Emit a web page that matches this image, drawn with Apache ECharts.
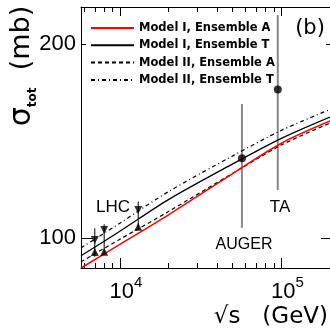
<!DOCTYPE html>
<html>
<head>
<meta charset="utf-8">
<script src="https://cdn.jsdelivr.net/npm/echarts@6/dist/echarts.min.js"></script>
<style>
html,body{margin:0;padding:0;background:#fff;}
#chart{width:330px;height:331px;}
</style>
</head>
<body>
<div id="chart"></div>
<script>
// ---- data ----
const energies = [5750, 10000, 20000, 50000, 100000, 200000];   // sqrt(s) in GeV
const modelIA  = [89.8, 97.7, 108.6, 125.9, 140.3, 151.9];
const modelIT  = [93.8, 102.4, 114.7, 130.3, 142.8, 154.1];
const modelIIA = [91.8, 99.5, 109.9, 126.0, 139.4, 150.8];
const modelIIT = [96.5, 105.4, 118.0, 134.1, 146.9, 158.3];

const seriesNames = ['Model I, Ensemble A', 'Model I, Ensemble T', 'Model II, Ensemble A', 'Model II, Ensemble T'];

// LHC measurements
const lhcEnergy = [7000, 8000, 13000];
const lhcDown   = [99.3, 102.9, 110.5];   // down triangles
const lhcUp     = [95.1, 95.2, 104.1];    // up triangles
const lhcLo     = [93.5, 94.1, 102.9];
const lhcHi     = [103.5, 105.0, 113.9];

// cosmic-ray measurements (AUGER, TA)
const crEnergy = [57000, 95000];
const crSigma  = [133, 170];
const crLo     = [103.7, 118.7];
const crHi     = [161.5, 222];

// axis ticks / labels
const xMajor = [10000, 100000];
const xMinor = [6000, 7000, 8000, 9000, 20000, 30000, 40000, 50000, 60000, 70000, 80000, 90000, 200000];
const yMajor = [100];
const yMinor = [200];
const yLabels = [100, 200];

const X_MIN = 5750, X_MAX = 200000, Y_MIN = 89.8, Y_MAX = 228.4;

const pairs = (xs, ys) => xs.map((x, i) => [x, ys[i]]);

const chart = echarts.init(document.getElementById('chart'), null, {renderer: 'canvas'});

const xBase = {type: 'log', logBase: 10, min: X_MIN, max: X_MAX, splitLine: {show: false}, minorTick: {show: false}};
const yBase = {type: 'log', logBase: 10, min: Y_MIN, max: Y_MAX, splitLine: {show: false}, minorTick: {show: false}};
const tickStyle = {color: '#000', width: 1};

function errRender(color, width) {
  return function (params, api) {
    const p1 = api.coord([api.value(0), api.value(1)]);
    const p2 = api.coord([api.value(0), api.value(2)]);
    return {type: 'line', shape: {x1: p1[0], y1: p1[1], x2: p2[0], y2: p2[1]},
            style: {stroke: color, lineWidth: width}};
  };
}

const lineStyles = [
  {color: '#ff0000', width: 1.5, type: 'solid'},
  {color: '#000000', width: 1.3, type: 'solid'},
  {color: '#000000', width: 1.2, type: [4, 3]},
  {color: '#000000', width: 1.2, type: [4, 3, 1, 3]}
];
const modelData = [modelIA, modelIT, modelIIA, modelIIT];

const option = {
  animation: false,
  backgroundColor: '#fff',
  grid: {left: 81, top: 7, right: -1, bottom: 63, containLabel: false},
  legend: {
    data: seriesNames,
    orient: 'vertical',
    left: 90, top: 22,
    padding: 0,
    itemWidth: 43, itemHeight: 12, itemGap: 5.3,
    selectedMode: false,
    itemStyle: {color: 'rgba(0,0,0,0)', borderWidth: 0, opacity: 0},
    textStyle: {fontFamily: 'DejaVu Sans', fontWeight: 'bold', fontSize: 11.5, color: '#000'}
  },
  xAxis: [
    Object.assign({}, xBase, {position: 'bottom',
      axisLine: {show: true, lineStyle: {color: '#000', width: 1}},
      axisTick: {show: true, inside: true, length: 10, customValues: xMajor, lineStyle: tickStyle},
      axisLabel: {show: true, customValues: xMajor, margin: 7, padding: [0, 0, 0, 12],
        formatter: v => '{b|10}{s|' + Math.round(Math.log10(v)) + '}',
        rich: {
          b: {fontFamily: 'Liberation Sans', fontSize: 22, color: '#000', lineHeight: 28, verticalAlign: 'bottom'},
          s: {fontFamily: 'Liberation Sans', fontSize: 15, color: '#000', lineHeight: 28, verticalAlign: 'top'}
        }}}),
    Object.assign({}, xBase, {position: 'bottom',
      axisLine: {show: false},
      axisTick: {show: true, inside: true, length: 5, customValues: xMinor, lineStyle: tickStyle},
      axisLabel: {show: false}}),
    Object.assign({}, xBase, {position: 'top',
      axisLine: {show: true, lineStyle: {color: '#000', width: 1}},
      axisTick: {show: true, inside: true, length: 9, customValues: xMajor, lineStyle: tickStyle},
      axisLabel: {show: false}}),
    Object.assign({}, xBase, {position: 'top',
      axisLine: {show: false},
      axisTick: {show: true, inside: true, length: 5, customValues: xMinor, lineStyle: tickStyle},
      axisLabel: {show: false}})
  ],
  yAxis: [
    Object.assign({}, yBase, {position: 'left',
      axisLine: {show: true, lineStyle: {color: '#000', width: 1}},
      axisTick: {show: true, inside: true, length: 12, customValues: yMajor, lineStyle: tickStyle},
      axisLabel: {show: true, customValues: yLabels, margin: 5,
        fontFamily: 'Liberation Sans', fontSize: 22, color: '#000'}}),
    Object.assign({}, yBase, {position: 'left',
      axisLine: {show: false},
      axisTick: {show: true, inside: true, length: 5, customValues: yMinor, lineStyle: tickStyle},
      axisLabel: {show: false}}),
    Object.assign({}, yBase, {position: 'right',
      axisLine: {show: false},
      axisTick: {show: true, inside: true, length: 9, customValues: yMajor, lineStyle: tickStyle},
      axisLabel: {show: false}}),
    Object.assign({}, yBase, {position: 'right',
      axisLine: {show: false},
      axisTick: {show: true, inside: true, length: 4, customValues: yMinor, lineStyle: tickStyle},
      axisLabel: {show: false}})
  ],
  series: [
    ...seriesNames.map((name, i) => ({
      name: name, type: 'line', xAxisIndex: 0, yAxisIndex: 0,
      data: pairs(energies, modelData[i]),
      smooth: 0.3, symbol: 'none', showSymbol: false,
      lineStyle: lineStyles[i], itemStyle: {color: lineStyles[i].color},
      z: i === 0 ? 4 : 3
    })),
    {
      name: 'cr-err', type: 'custom', xAxisIndex: 0, yAxisIndex: 0,
      data: crEnergy.map((x, i) => [x, crLo[i], crHi[i]]),
      renderItem: errRender('#888888', 2), encode: {x: 0, y: [1, 2]}, silent: true, z: 2
    },
    {
      name: 'cr', type: 'scatter', xAxisIndex: 0, yAxisIndex: 0,
      data: pairs(crEnergy, crSigma), symbol: 'circle', symbolSize: 8,
      itemStyle: {color: '#000'}, silent: true, z: 5
    },
    {
      name: 'lhc-err', type: 'custom', xAxisIndex: 0, yAxisIndex: 0,
      data: lhcEnergy.map((x, i) => [x, lhcLo[i], lhcHi[i]]),
      renderItem: errRender('#000000', 1), encode: {x: 0, y: [1, 2]}, silent: true, z: 5
    },
    {
      name: 'lhc-down', type: 'scatter', xAxisIndex: 0, yAxisIndex: 0,
      data: pairs(lhcEnergy, lhcDown), symbol: 'triangle', symbolRotate: 180, symbolSize: 8,
      itemStyle: {color: '#000'}, silent: true, z: 6
    },
    {
      name: 'lhc-up', type: 'scatter', xAxisIndex: 0, yAxisIndex: 0,
      data: pairs(lhcEnergy, lhcUp), symbol: 'triangle', symbolSize: 8,
      itemStyle: {color: '#000'}, silent: true, z: 6
    }
  ],
  graphic: [
    {type: 'text', x: 22, y: 66, rotation: Math.PI / 2, silent: true,
     style: {text: '{a|σ}{b|tot}{c|  (mb)}', align: 'center', verticalAlign: 'middle',
       rich: {
         a: {fontFamily: 'DejaVu Sans', fontSize: 30, color: '#000', lineHeight: 34, verticalAlign: 'middle'},
         b: {fontFamily: 'DejaVu Sans', fontSize: 12, fontWeight: 'bold', color: '#000', lineHeight: 34, verticalAlign: 'bottom'},
         c: {fontFamily: 'DejaVu Sans', fontSize: 27, color: '#000', lineHeight: 34, verticalAlign: 'middle'}
       }}},
    {type: 'text', x: 328, y: 317, silent: true,
     style: {text: '√s   (GeV)', align: 'right', verticalAlign: 'middle',
       fontFamily: 'DejaVu Sans', fontSize: 23, fill: '#000'}},
    {type: 'text', x: 310, y: 29, silent: true,
     style: {text: '(b)', align: 'center', verticalAlign: 'middle',
       fontFamily: 'DejaVu Sans', fontSize: 21, fill: '#000'}},
    {type: 'text', x: 113, y: 207, silent: true,
     style: {text: 'LHC', align: 'center', verticalAlign: 'middle',
       fontFamily: 'Liberation Sans', fontSize: 17, fill: '#000'}},
    {type: 'text', x: 244, y: 245, silent: true,
     style: {text: 'AUGER', align: 'center', verticalAlign: 'middle',
       fontFamily: 'Liberation Sans', fontSize: 16, fill: '#000'}},
    {type: 'text', x: 280, y: 207, silent: true,
     style: {text: 'TA', align: 'center', verticalAlign: 'middle',
       fontFamily: 'Liberation Sans', fontSize: 17, fill: '#000'}}
  ]
};
chart.setOption(option);
</script>
</body>
</html>
